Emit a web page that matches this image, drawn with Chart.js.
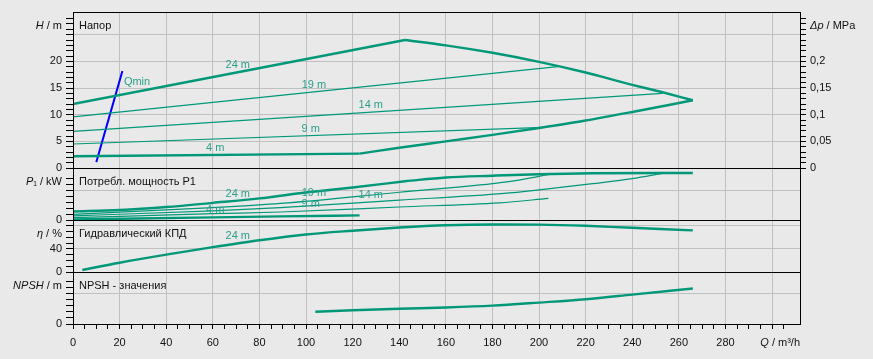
<!DOCTYPE html>
<html lang="ru">
<head>
<meta charset="utf-8">
<title>Напор / P1 / КПД / NPSH</title>
<script src="https://cdn.jsdelivr.net/npm/chart.js@4.4.1/dist/chart.umd.min.js"></script>
<style>
    html, body { margin: 0; padding: 0; background: #e9e9e9; }
    #wrap { position: relative; width: 873px; height: 359px; overflow: hidden; }
    #wrap canvas { position: absolute; left: 0; top: 0; }
</style>
</head>
<body>
<div id="wrap">
    <canvas id="chartHead" width="873" height="359"></canvas>
    <canvas id="chartPower" width="873" height="359"></canvas>
    <canvas id="chartEff" width="873" height="359"></canvas>
    <canvas id="chartNpsh" width="873" height="359"></canvas>
</div>
<script>
console.log('=== PUMP CURVES - LOADING ===');

// tick labels
const qTickLabels = [0, 20, 40, 60, 80, 100, 120, 140, 160, 180, 200, 220, 240, 260, 280];
const headTickLabels = [0, 5, 10, 15, 20];
const dpTickLabels = [0, 0.05, 0.1, 0.15, 0.2];
const powerTickLabels = [0];
const effTickLabels = [0, 40];
const npshTickLabels = [0];

// Напор, H / m
const qHead24 = [0, 142.5];
const head24 = [12.0, 24.0];
const qHeadMax = [142.5, 160, 180, 200, 220, 240, 253, 266];
const headMax = [24.0, 23.0, 21.6, 19.9, 17.9, 15.6, 14.2, 12.7];
const qHeadMin = [123, 140, 160, 180, 200, 220, 240, 266];
const headMin = [2.7, 3.8, 5.0, 6.2, 7.5, 8.9, 10.5, 12.7];
const qHead19 = [0, 208];
const head19 = [9.57, 19.0];
const qHead14 = [0, 253];
const head14 = [6.87, 14.0];
const qHead9 = [0, 202];
const head9 = [4.5, 7.6];
const qHead4 = [0, 123];
const head4 = [2.2, 2.7];
const qMinLine = [10, 21.2];
const headMinLine = [1.1, 18.2];

// Потребл. мощность P1, kW
const qPower24 = [0, 20, 40, 60, 80, 100, 120, 142.5];
const power24 = [2.9, 3.4, 4.4, 5.8, 7.3, 9.3, 11.0, 13.1];
const qPowerMax = [142.5, 160, 180, 200, 223, 266];
const powerMax = [13.1, 14.4, 15.0, 15.5, 15.8, 15.9];
const qPower19 = [0, 60, 89, 140, 187, 205];
const power19 = [1.9, 4.2, 5.6, 9.4, 13.0, 15.5];
const qPower14 = [0, 60, 89, 140, 185, 200, 223, 240, 253];
const power14 = [1.4, 3.1, 4.2, 6.7, 9.0, 10.2, 12.3, 14.0, 15.8];
const qPower9 = [0, 60, 89, 140, 183, 204];
const power9 = [0.8, 2.15, 2.7, 4.4, 5.8, 7.3];
const qPower4 = [0, 60, 89, 123];
const power4 = [0.2, 0.9, 1.23, 1.57];

// Гидравлический КПД, %
const qEff = [4, 20, 40, 60, 80, 100, 120, 140, 160, 180, 200, 220, 240, 266];
const eff24 = [3.5, 16, 30, 43, 55, 65, 71.5, 77, 81, 82.3, 82, 80, 76.5, 72];

// NPSH, m
const qNpsh = [104, 120, 140, 160, 180, 200, 220, 240, 266];
const npshValues = [4.0, 4.5, 5.0, 5.4, 6.0, 7.0, 8.1, 9.6, 11.6];

// axis ranges
const Q_MAX = 312;
const H_MAX = 29.25;
const P_MAX = 17.6;
const EFF_MAX = 90;
const NPSH_MAX = 17;

const AXIS_W = 73;
const FONT = '"Liberation Sans", Arial, sans-serif';
const LINE = '#009879';
const LABEL = '#2a9f8a';
const BLUE = '#0000ff';
const GRID = '#c0c0c0';
const INK = '#111';

Chart.defaults.font.family = FONT;
Chart.defaults.font.size = 11;
Chart.defaults.color = INK;

function points(qs, vs) {
    return qs.map((q, i) => ({ x: q, y: vs[i] }));
}

function interp(data, q) {
    for (let i = 1; i < data.length; i++) {
        if (q <= data[i].x) {
            const a = data[i - 1], b = data[i];
            return a.y + (b.y - a.y) * (q - a.x) / (b.x - a.x);
        }
    }
    return data[data.length - 1].y;
}

function onStep(v, step) {
    const k = v / step;
    return Math.abs(k - Math.round(k)) < 1e-6;
}

function inList(list, v) {
    return list.some(x => Math.abs(x - v) < 1e-6);
}

function line(label, data, thick, color) {
    return {
        label: label,
        data: data,
        borderColor: color || LINE,
        borderWidth: thick ? 2.4 : 1.2,
        pointRadius: 0,
        fill: false,
        cubicInterpolationMode: 'monotone'
    };
}

function xAxis(showTicks) {
    return {
        type: 'linear', position: 'bottom', min: 0, max: Q_MAX,
        afterFit: s => { s.height = showTicks ? 35 : 0; },
        afterBuildTicks: s => { s.ticks = s.ticks.filter(t => onStep(t.value, 5)); },
        ticks: {
            display: showTicks, stepSize: 5, autoSkip: false,
            maxRotation: 0, minRotation: 0, padding: 7, color: INK,
            callback: v => inList(qTickLabels, v) ? String(v) : ''
        },
        grid: {
            drawTicks: showTicks, tickLength: 5, tickColor: '#000',
            color: c => (c.tick && onStep(c.tick.value, 20)) ? GRID : 'rgba(0,0,0,0)'
        },
        border: { color: '#000' }
    };
}

function yAxis(max, step, labels, grids, opts = {}) {
    const right = opts.position === 'right';
    return {
        type: 'linear', position: right ? 'right' : 'left', min: 0, max: max,
        afterFit: s => { s.width = AXIS_W; },
        afterBuildTicks: s => { s.ticks = s.ticks.filter(t => onStep(t.value, step)); },
        ticks: {
            stepSize: step, autoSkip: false, padding: 4, color: INK,
            callback: v => inList(labels, v) ? (opts.format ? opts.format(v) : String(v)) : ''
        },
        grid: {
            drawOnChartArea: !right, tickLength: right ? 6 : 7, tickColor: '#000',
            color: c => (c.tick && inList(grids, c.tick.value)) ? GRID : 'rgba(0,0,0,0)'
        },
        border: { color: '#000' }
    };
}

function drawParts(ctx, parts, x, y, align) {
    // parts: [text, italic]
    const fonts = parts.map(p => (p[1] ? 'italic ' : '') + '11px ' + FONT);
    const widths = parts.map((p, i) => { ctx.font = fonts[i]; return ctx.measureText(p[0]).width; });
    const total = widths.reduce((a, b) => a + b, 0);
    let cx = align === 'right' ? x - total : x;
    ctx.textAlign = 'left';
    ctx.textBaseline = 'middle';
    parts.forEach((p, i) => {
        ctx.font = fonts[i];
        ctx.fillText(p[0], cx, y);
        cx += widths[i];
    });
}

// where the curve names sit along Q
const labelSpots = { '24 m': 70.7, '19 m': 103.4, '14 m': 127.8, '9 m': 102, '4 m': 61 };

function panelPlugin(cfg) {
    return {
        id: 'panel_' + cfg.name,
        afterDatasetsDraw(chart) {
            const { ctx, chartArea: a } = chart;
            const xs = chart.scales.x, ys = chart.scales.y;
            ctx.save();

            // frame
            ctx.strokeStyle = '#000';
            ctx.lineWidth = 1;
            const l = Math.round(a.left), t = Math.round(a.top);
            ctx.strokeRect(l + 0.5, t + 0.5, Math.round(a.right) - l, Math.round(a.bottom) - t);

            ctx.fillStyle = INK;
            drawParts(ctx, [[cfg.title, false]], a.left + 6, a.top + 13.5, 'left');
            drawParts(ctx, cfg.axisTitle, a.left - 11, a.top + 13.5, 'right');
            if (cfg.rightTitle) {
                drawParts(ctx, cfg.rightTitle, a.right + 10, a.top + 13.5, 'left');
            }
            if (cfg.qTitle) {
                drawParts(ctx, [['Q', true], [' / m³/h', false]], a.right, a.bottom + 19, 'right');
            }

            // curve names
            ctx.fillStyle = LABEL;
            ctx.font = '11px ' + FONT;
            ctx.textAlign = 'center';
            ctx.textBaseline = 'middle';
            chart.data.datasets.forEach(ds => {
                const q = labelSpots[ds.label];
                if (q === undefined || !cfg.names.includes(ds.label)) return;
                const px = xs.getPixelForValue(q);
                const py = ys.getPixelForValue(interp(ds.data, q));
                ctx.fillText(ds.label, px, py - 7);
            });

            const qmin = chart.data.datasets.find(ds => ds.label === 'Qmin');
            if (qmin) {
                const top = qmin.data[qmin.data.length - 1];
                ctx.textAlign = 'left';
                ctx.fillText('Qmin', xs.getPixelForValue(top.x) + 1.5, ys.getPixelForValue(top.y) + 11);
            }
            ctx.restore();
        }
    };
}

function baseOptions(padding, scales) {
    return {
        responsive: false,
        animation: false,
        events: [],
        layout: { padding: Object.assign({ left: 0, right: AXIS_W }, padding) },
        plugins: { legend: { display: false }, tooltip: { enabled: false } },
        scales: scales
    };
}

class PumpCurvesApp {
    constructor() {
        this.charts = {};
        this.init();
    }

    init() {
        this.createHeadChart();
        this.createPowerChart();
        this.createEffChart();
        this.createNpshChart();
        console.log('✅ Charts ready');
    }

    createHeadChart() {
        const ctx = document.getElementById('chartHead');
        this.charts.head = new Chart(ctx, {
            type: 'line',
            data: {
                datasets: [
                    line('19 m', points(qHead19, head19), false),
                    line('14 m', points(qHead14, head14), false),
                    line('9 m', points(qHead9, head9), false),
                    line('24 m', points(qHead24, head24), true),
                    line('max', points(qHeadMax, headMax), true),
                    line('min', points(qHeadMin, headMin), true),
                    line('4 m', points(qHead4, head4), true),
                    Object.assign(line('Qmin', points(qMinLine, headMinLine), false, BLUE), { borderWidth: 2 })
                ]
            },
            options: baseOptions({ top: 12, bottom: 191, right: 0 }, {
                x: xAxis(false),
                y: yAxis(H_MAX, 1, headTickLabels, [5, 10, 15, 20, 25]),
                dp: yAxis(H_MAX / 100, 0.01, dpTickLabels, [], {
                    position: 'right',
                    format: v => String(v).replace('.', ',')
                })
            }),
            plugins: [panelPlugin({
                name: 'head', title: 'Напор',
                axisTitle: [['H', true], [' / m', false]],
                rightTitle: [['Δp', true], [' / MPa', false]],
                names: ['24 m', '19 m', '14 m', '9 m', '4 m']
            })]
        });
    }

    createPowerChart() {
        const ctx = document.getElementById('chartPower');
        this.charts.power = new Chart(ctx, {
            type: 'line',
            data: {
                datasets: [
                    line('19 m', points(qPower19, power19), false),
                    line('14 m', points(qPower14, power14), false),
                    line('9 m', points(qPower9, power9), false),
                    line('24 m', points(qPower24, power24), true),
                    line('max', points(qPowerMax, powerMax), true),
                    line('4 m', points(qPower4, power4), true)
                ]
            },
            options: baseOptions({ top: 168, bottom: 139 }, {
                x: xAxis(false),
                y: yAxis(P_MAX, 2, powerTickLabels, [10])
            }),
            plugins: [panelPlugin({
                name: 'power', title: 'Потребл. мощность P1',
                axisTitle: [['P', true], ['₁ / kW', false]],
                names: ['24 m', '19 m', '14 m', '9 m', '4 m']
            })]
        });
    }

    createEffChart() {
        const ctx = document.getElementById('chartEff');
        this.charts.eff = new Chart(ctx, {
            type: 'line',
            data: { datasets: [line('24 m', points(qEff, eff24), true)] },
            options: baseOptions({ top: 220, bottom: 87 }, {
                x: xAxis(false),
                y: yAxis(EFF_MAX, 10, effTickLabels, [40, 80])
            }),
            plugins: [panelPlugin({
                name: 'eff', title: 'Гидравлический КПД',
                axisTitle: [['η', true], [' / %', false]],
                names: ['24 m']
            })]
        });
    }

    createNpshChart() {
        const ctx = document.getElementById('chartNpsh');
        this.charts.npsh = new Chart(ctx, {
            type: 'line',
            data: { datasets: [line('npsh', points(qNpsh, npshValues), true)] },
            options: baseOptions({ top: 272, bottom: 0 }, {
                x: xAxis(true),
                y: yAxis(NPSH_MAX, 2, npshTickLabels, [10])
            }),
            plugins: [panelPlugin({
                name: 'npsh', title: 'NPSH - значения',
                axisTitle: [['NPSH', true], [' / m', false]],
                qTitle: true,
                names: []
            })]
        });
    }
}

window.app = new PumpCurvesApp();
</script>
</body>
</html>
